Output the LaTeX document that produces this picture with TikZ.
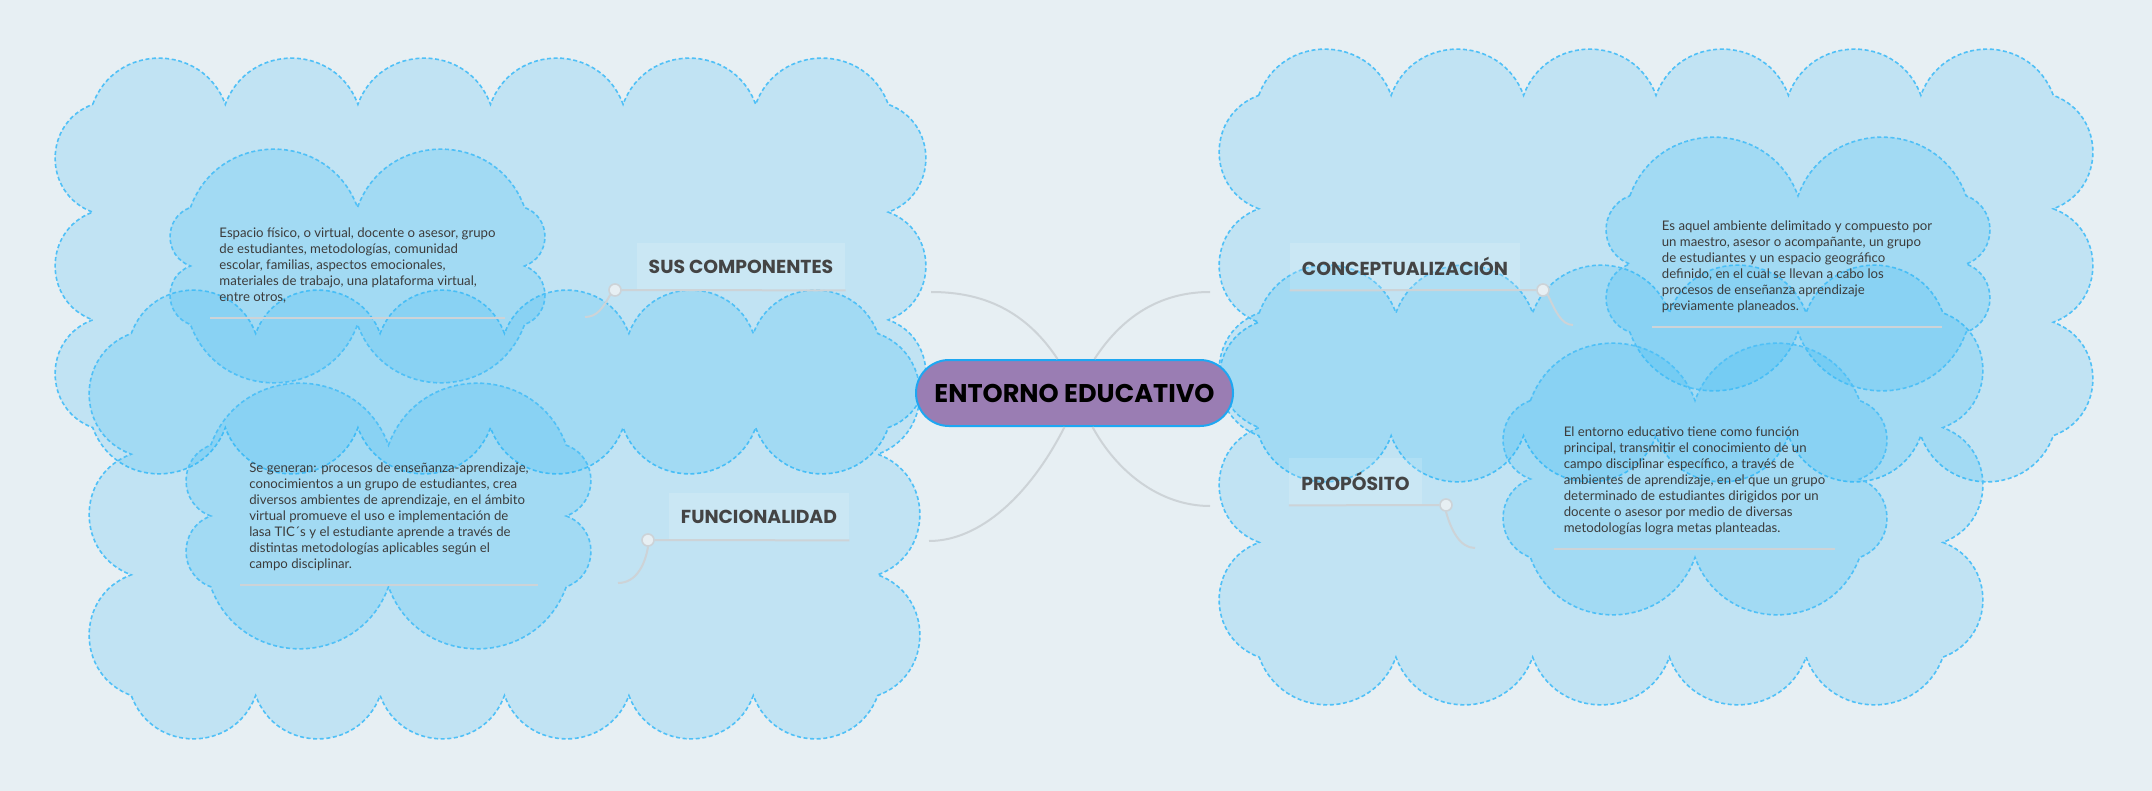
\documentclass[tikz,border=0pt]{standalone}
\usepackage{fontspec}
\setmainfont{Lato}
\newfontfamily\headfont{Poppins}

\definecolor{bgcol}{HTML}{E7EFF3}
\definecolor{cloudfill}{HTML}{29B6F6}
\definecolor{cloudline}{HTML}{4FC0F7}
\definecolor{hubfill}{HTML}{9A7DB3}
\definecolor{hubline}{HTML}{1EA7F2}
\definecolor{linkgray}{HTML}{CDD3D7}
\definecolor{labeltext}{HTML}{444444}
\definecolor{bodytext}{HTML}{3C3C3C}

\tikzset{
  puffs/.style={fill=cloudfill, fill opacity=0.2, draw=cloudline,
    dash pattern=on 2pt off 1.3pt, line width=0.8pt},
  puffarc/.style={bend left=70, looseness=1.27},
  hub/.style={rectangle, rounded corners=16.5pt, minimum width=158.5pt, minimum height=33pt,
    fill=hubfill, draw=hubline, line width=1pt, font=\headfont\bfseries\fontsize{12.8}{14}\selectfont},
  branch/.style={rectangle, fill=white, fill opacity=0.15, text opacity=1, inner xsep=6pt,
    minimum height=23.5pt, text=labeltext, font=\headfont\bfseries\fontsize{9.4}{11}\selectfont},
  dot/.style={circle, inner sep=0pt, minimum size=6pt, fill=bgcol, draw=linkgray, line width=0.8pt},
  link/.style={draw=linkgray, line width=1pt},
  notes/.style={align=left, text=bodytext, inner xsep=4.5pt, inner ysep=7pt,
    font=\fontsize{6.6}{8}\selectfont}
}

% cloud of puffs round a box: centre x, centre y, width, height, puffs across, puffs down
\newcommand\puffcloud[7][]{%
  \pgfmathsetmacro\pfk{0.35}%
  \pgfmathsetmacro\pfw{(#4-2*\pfk*#5/#7)/(1-4*\pfk*\pfk/(#6*#7))}%
  \pgfmathsetmacro\pfh{#5-2*\pfk*\pfw/#6}%
  \pgfmathsetmacro\pfxa{#2-\pfw/2}\pgfmathsetmacro\pfxb{#2+\pfw/2}%
  \pgfmathsetmacro\pfya{#3-\pfh/2}\pgfmathsetmacro\pfyb{#3+\pfh/2}%
  \pgfmathsetmacro\pfdx{\pfw/#6}\pgfmathsetmacro\pfdy{\pfh/#7}%
  \path[puffs,#1] (\pfxa,\pfya)
    \foreach \i in {1,...,#6} {to[puffarc] ({\pfxa+\i*\pfdx},\pfya)}
    \foreach \i in {1,...,#7} {to[puffarc] (\pfxb,{\pfya+\i*\pfdy})}
    \foreach \i in {1,...,#6} {to[puffarc] ({\pfxb-\i*\pfdx},\pfyb)}
    \foreach \i in {1,...,#7} {to[puffarc] (\pfxa,{\pfyb-\i*\pfdy})} -- cycle;}

\begin{document}
\begin{tikzpicture}[x=0.5pt,y=-0.5pt]
  % background
  \fill[bgcol] (0,0) rectangle (2152,791);
  \useasboundingbox (0,0) rectangle (2152,791);

  % clouds
  \puffcloud{490.5}{266}{871}{416}{6}{3}
  \puffcloud{504.5}{514.5}{831}{449}{6}{3}
  \puffcloud{1656}{265.5}{874}{433}{6}{3}
  \puffcloud{1601}{485}{764}{440}{5}{3}
  \puffcloud{357.5}{266}{375}{234}{2}{2}
  \puffcloud{388.5}{516}{405}{266}{2}{2}
  \puffcloud{1798}{264}{384}{254}{2}{2}
  \puffcloud{1695}{479}{384}{272}{2}{2}

  % central topic
  \node[hub] (hub) at (1074.5,393) {ENTORNO EDUCATIVO};

  % branch titles
  \node[branch] (sus) at (741,266.5) {SUS COMPONENTES};
  \node[branch] (fun) at (759,516.5) {FUNCIONALIDAD};
  \node[branch] (con) at (1405,266.5) {CONCEPTUALIZACIÓN};
  \node[branch] (pro) at (1355.5,481.5) {PROPÓSITO};

  % notes
  \node[notes] (susnote) at (357.5,266) {Espacio físico, o virtual, docente o asesor, grupo\\
    de estudiantes, metodologías, comunidad\\ escolar, familias, aspectos emocionales,\\
    materiales de trabajo, una plataforma virtual,\\ entre otros,};
  \node[notes] (funnote) at (389,516.5) {Se generan: procesos de enseñanza-aprendizaje,\\
    conocimientos a un grupo de estudiantes, crea\\ diversos ambientes de aprendizaje, en el ámbito\\
    virtual promueve el uso e implementación de\\ lasa TIC´s y el estudiante aprende a través de\\
    distintas metodologías aplicables según el\\ campo disciplinar.};
  \node[notes] (connote) at (1797,266.5) {Es aquel ambiente delimitado y compuesto por\\
    un maestro, asesor o acompañante, un grupo\\ de estudiantes y un espacio geográfico\\
    definido, en el cual se llevan a cabo los\\ procesos de enseñanza aprendizaje\\ previamente planeados.};
  \node[notes] (pronote) at (1694.5,481) {El entorno educativo tiene como función\\
    principal, transmitir el conocimiento de un\\ campo disciplinar específico, a través de\\
    ambientes de aprendizaje, en el que un grupo\\ determinado de estudiantes dirigidos por un\\
    docente o asesor por medio de diversas\\ metodologías logra metas planteadas.};
  \foreach \n in {susnote,funnote,connote,pronote}
    \draw[link] (\n.south west) -- (\n.south east);

  % free ends of the links
  \coordinate (susin) at (931,292);
  \coordinate (funin) at (929,541);
  \coordinate (conin) at (1210,292);
  \coordinate (proin) at (1210,506);
  \coordinate (susnotein) at (585,317);
  \coordinate (funnotein) at (618,583);
  \coordinate (connotein) at (1573,325);
  \coordinate (pronotein) at (1475,548);

  % links from the centre
  \draw[link] ([xshift=-8.5pt]hub.north) .. controls (1022,305) and (975,292) .. (susin);
  \draw[link] ([xshift=-5pt]hub.south) .. controls (1030,495) and (980,541) .. (funin);
  \draw[link] ([xshift=10pt]hub.north) .. controls (1125,312) and (1165,292) .. (conin);
  \draw[link] ([xshift=9pt]hub.south) .. controls (1117,472) and (1160,506) .. (proin);

  % underlines and dots
  \node[dot] (dotsus) at (615,290) {};
  \node[dot] (dotfun) at (648,540) {};
  \node[dot] (dotcon) at (1543,290) {};
  \node[dot] (dotpro) at (1446,505) {};
  \draw[link] (dotsus.east) -- (sus.south east);
  \draw[link] (dotfun.east) -- (fun.south east);
  \draw[link] (con.south west) -- (dotcon.west);
  \draw[link] (pro.south west) -- (dotpro.west);
  \draw[link] (dotsus.south west) .. controls (603,308) and (597,317) .. (susnotein);
  \draw[link] (dotfun.south) .. controls (645,565) and (636,583) .. (funnotein);
  \draw[link] (dotcon.south east) .. controls (1555,310) and (1561,325) .. (connotein);
  \draw[link] (dotpro.south) .. controls (1451,530) and (1460,548) .. (pronotein);
\end{tikzpicture}
\end{document}
